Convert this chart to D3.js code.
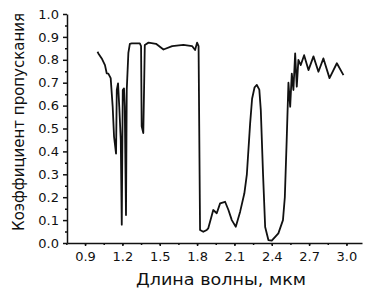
<!DOCTYPE html>
<meta charset="utf-8">
<script src="https://cdn.jsdelivr.net/npm/d3@7"></script>
<style>
  body { margin: 0; background: #fff; }
  .axis text { font-family: "DejaVu Sans", sans-serif; font-size: 13px; fill: #111; }
  .axis path, .axis line { stroke: #111; stroke-width: 1.5px; }
  .label { font-family: "DejaVu Sans", sans-serif; font-size: 15px; fill: #111; }
</style>
<div id="wrapper"></div>
<script>
  // wavelength, um
  const wavelength = [
    1.00, 1.007, 1.034, 1.06, 1.074, 1.087, 1.106, 1.122, 1.133, 1.149,
    1.155, 1.165, 1.175, 1.187, 1.195, 1.203, 1.213, 1.219, 1.229, 1.235,
    1.248, 1.26, 1.275, 1.34, 1.35, 1.355, 1.368, 1.375, 1.38, 1.41,
    1.47, 1.53, 1.60, 1.69, 1.76, 1.784, 1.80, 1.812, 1.824, 1.85,
    1.878, 1.89, 1.93, 1.958, 1.985, 2.025, 2.052, 2.079, 2.111, 2.146,
    2.18, 2.20, 2.226, 2.242, 2.262, 2.28, 2.30, 2.312, 2.33, 2.347,
    2.373, 2.40, 2.453, 2.49, 2.505, 2.52, 2.534, 2.548, 2.561, 2.574,
    2.588, 2.601, 2.614, 2.633, 2.66, 2.695, 2.735, 2.775, 2.815, 2.864,
    2.923, 2.976
  ];
  // transmission coefficient
  const transmission = [
    0.835, 0.828, 0.806, 0.777, 0.741, 0.74, 0.72, 0.595, 0.464, 0.39,
    0.668, 0.697, 0.595, 0.45, 0.08, 0.668, 0.675, 0.595, 0.122, 0.668,
    0.83, 0.87, 0.872, 0.872, 0.86, 0.51, 0.48, 0.70, 0.865, 0.875,
    0.87, 0.845, 0.86, 0.865, 0.86, 0.843, 0.875, 0.86, 0.057, 0.049,
    0.057, 0.064, 0.144, 0.13, 0.173, 0.18, 0.144, 0.10, 0.071, 0.137,
    0.217, 0.30, 0.52, 0.63, 0.68, 0.69, 0.67, 0.58, 0.30, 0.07,
    0.013, 0.01, 0.042, 0.10, 0.20, 0.45, 0.70, 0.595, 0.74, 0.668,
    0.828, 0.683, 0.80, 0.777, 0.82, 0.755, 0.815, 0.748, 0.806, 0.72,
    0.785, 0.733
  ];
  const xTicks = [0.9, 1.2, 1.5, 1.8, 2.1, 2.4, 2.7, 3.0];
  const yTicks = [0, 0.1, 0.2, 0.3, 0.4, 0.5, 0.6, 0.7, 0.8, 0.9, 1.0];

  const W = 367, H = 291;
  const margin = { top: 14, right: 5, bottom: 48, left: 67 };

  const svg = d3.select("#wrapper").append("svg")
    .attr("width", W).attr("height", H);

  const x = d3.scaleLinear().domain([0.755, 3.125]).range([margin.left, W - margin.right]);
  const y = d3.scaleLinear().domain([0, 1]).range([H - margin.bottom, margin.top]);

  // minor ticks
  svg.append("g")
    .attr("class", "axis")
    .attr("transform", `translate(0,${H - margin.bottom})`)
    .call(d3.axisBottom(x).tickValues(d3.range(0.75, 3.1, 0.15)).tickSize(2).tickFormat(""))
    .select(".domain").remove();
  svg.append("g")
    .attr("class", "axis")
    .attr("transform", `translate(${margin.left},0)`)
    .call(d3.axisLeft(y).tickValues(d3.range(0.05, 1, 0.1)).tickSize(2).tickFormat(""))
    .select(".domain").remove();

  // main axes
  svg.append("g")
    .attr("class", "axis")
    .attr("transform", `translate(0,${H - margin.bottom})`)
    .call(d3.axisBottom(x).tickValues(xTicks).tickSize(3).tickSizeOuter(0).tickPadding(6)
      .tickFormat(d3.format(".1f")));

  svg.append("g")
    .attr("class", "axis")
    .attr("transform", `translate(${margin.left},0)`)
    .call(d3.axisLeft(y).tickValues(yTicks).tickSize(4).tickSizeOuter(0).tickPadding(4)
      .tickFormat(d3.format(".1f")));

  // spectrum line
  const line = d3.line()
    .x((d, i) => x(wavelength[i]))
    .y(d => y(d));

  svg.append("path")
    .datum(transmission)
    .attr("fill", "none")
    .attr("stroke", "#111")
    .attr("stroke-width", 1.8)
    .attr("stroke-linejoin", "round")
    .attr("d", line);

  // axis titles
  svg.append("text")
    .attr("class", "label")
    .attr("text-anchor", "middle")
    .attr("x", 221)
    .attr("y", 285)
    .attr("textLength", 170)
    .attr("lengthAdjust", "spacingAndGlyphs")
    .text("Длина волны, мкм");

  svg.append("text")
    .attr("class", "label")
    .attr("text-anchor", "middle")
    .attr("transform", "rotate(-90)")
    .attr("x", -122)
    .attr("y", 24)
    .attr("textLength", 218)
    .attr("lengthAdjust", "spacingAndGlyphs")
    .text("Коэффициент пропускания");
</script>
